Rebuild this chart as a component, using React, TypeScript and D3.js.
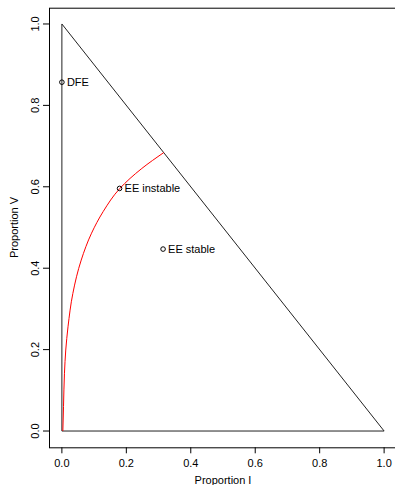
import React from 'react'
import * as d3 from 'd3'

// triangle border of the feasible region (I + V <= 1)
const triangleI = [0, 0, 1, 0]
const triangleV = [0, 1, 0, 0]

// red curve (ordered by V)
const curveI = [0.003, 0.005, 0.008, 0.012, 0.019, 0.034, 0.06, 0.092, 0.128, 0.18, 0.248, 0.316]
const curveV = [0, 0.06, 0.142, 0.199, 0.256, 0.338, 0.42, 0.486, 0.539, 0.596, 0.645, 0.684]

// equilibria
const pointNames = ['DFE', 'EE instable', 'EE stable']
const pointI = [0, 0.179, 0.314]
const pointV = [0.857, 0.596, 0.447]

const ticks = [0, 0.2, 0.4, 0.6, 0.8, 1.0]

const W = 395
const H = 485
const font = '"Liberation Sans", Arial, sans-serif'
const fs = 11

export default function App() {
  const x = d3.scaleLinear().domain([-0.04, 1.04]).range([49, 397])
  const y = d3.scaleLinear().domain([-0.04, 1.04]).range([447.3, 7.7])

  const line = d3.line<[number, number]>().x(d => x(d[0])).y(d => y(d[1]))
  const curveLine = d3.line<[number, number]>()
    .x(d => x(d[0])).y(d => y(d[1]))
    .curve(d3.curveMonotoneY)

  const tri = triangleI.map((v, i) => [v, triangleV[i]] as [number, number])
  const curve = curveI.map((v, i) => [v, curveV[i]] as [number, number])
  const fmt = d3.format('.1f')

  const [x0, x1] = x.range()
  const [y0, y1] = y.range()

  return (
    <svg width={W} height={H} style={{ position: 'absolute', left: 0, top: 0 }} fontFamily={font}>
      <rect x={0} y={0} width={W} height={H} fill="white" />
      {/* box */}
      <rect x={x0 + 0.5} y={y1 + 0.5} width={x1 - x0} height={y0 - y1} fill="none" stroke="black" />

      {/* x axis */}
      {ticks.map(t => (
        <g key={'x' + t}>
          <line x1={x(t)} x2={x(t)} y1={y0} y2={y0 + 6} stroke="black" />
          <text x={x(t)} y={y0 + 20} fontSize={fs} textAnchor="middle">{fmt(t)}</text>
        </g>
      ))}
      <text x={(x0 + x1) / 2} y={H - 1} fontSize={fs} textAnchor="middle">Proportion I</text>

      {/* y axis */}
      {ticks.map(t => (
        <g key={'y' + t}>
          <line x1={x0} x2={x0 - 6} y1={y(t)} y2={y(t)} stroke="black" />
          <text transform={`translate(${x0 - 10},${y(t)}) rotate(-90)`} fontSize={fs} textAnchor="middle">{fmt(t)}</text>
        </g>
      ))}
      <text transform={`translate(18,${(y0 + y1) / 2}) rotate(-90)`} fontSize={fs} textAnchor="middle">Proportion V</text>

      {/* triangle */}
      <path d={line(tri) || ''} fill="none" stroke="#222" strokeWidth={1} />

      {/* curve */}
      <path d={curveLine(curve) || ''} fill="none" stroke="red" strokeWidth={1} />

      {/* points */}
      {pointNames.map((n, i) => (
        <g key={n}>
          <circle cx={x(pointI[i])} cy={y(pointV[i])} r={2.3} fill="none" stroke="black" strokeWidth={1} />
          <text x={x(pointI[i]) + 5} y={y(pointV[i]) + 4} fontSize={fs}>{n}</text>
        </g>
      ))}
    </svg>
  )
}
